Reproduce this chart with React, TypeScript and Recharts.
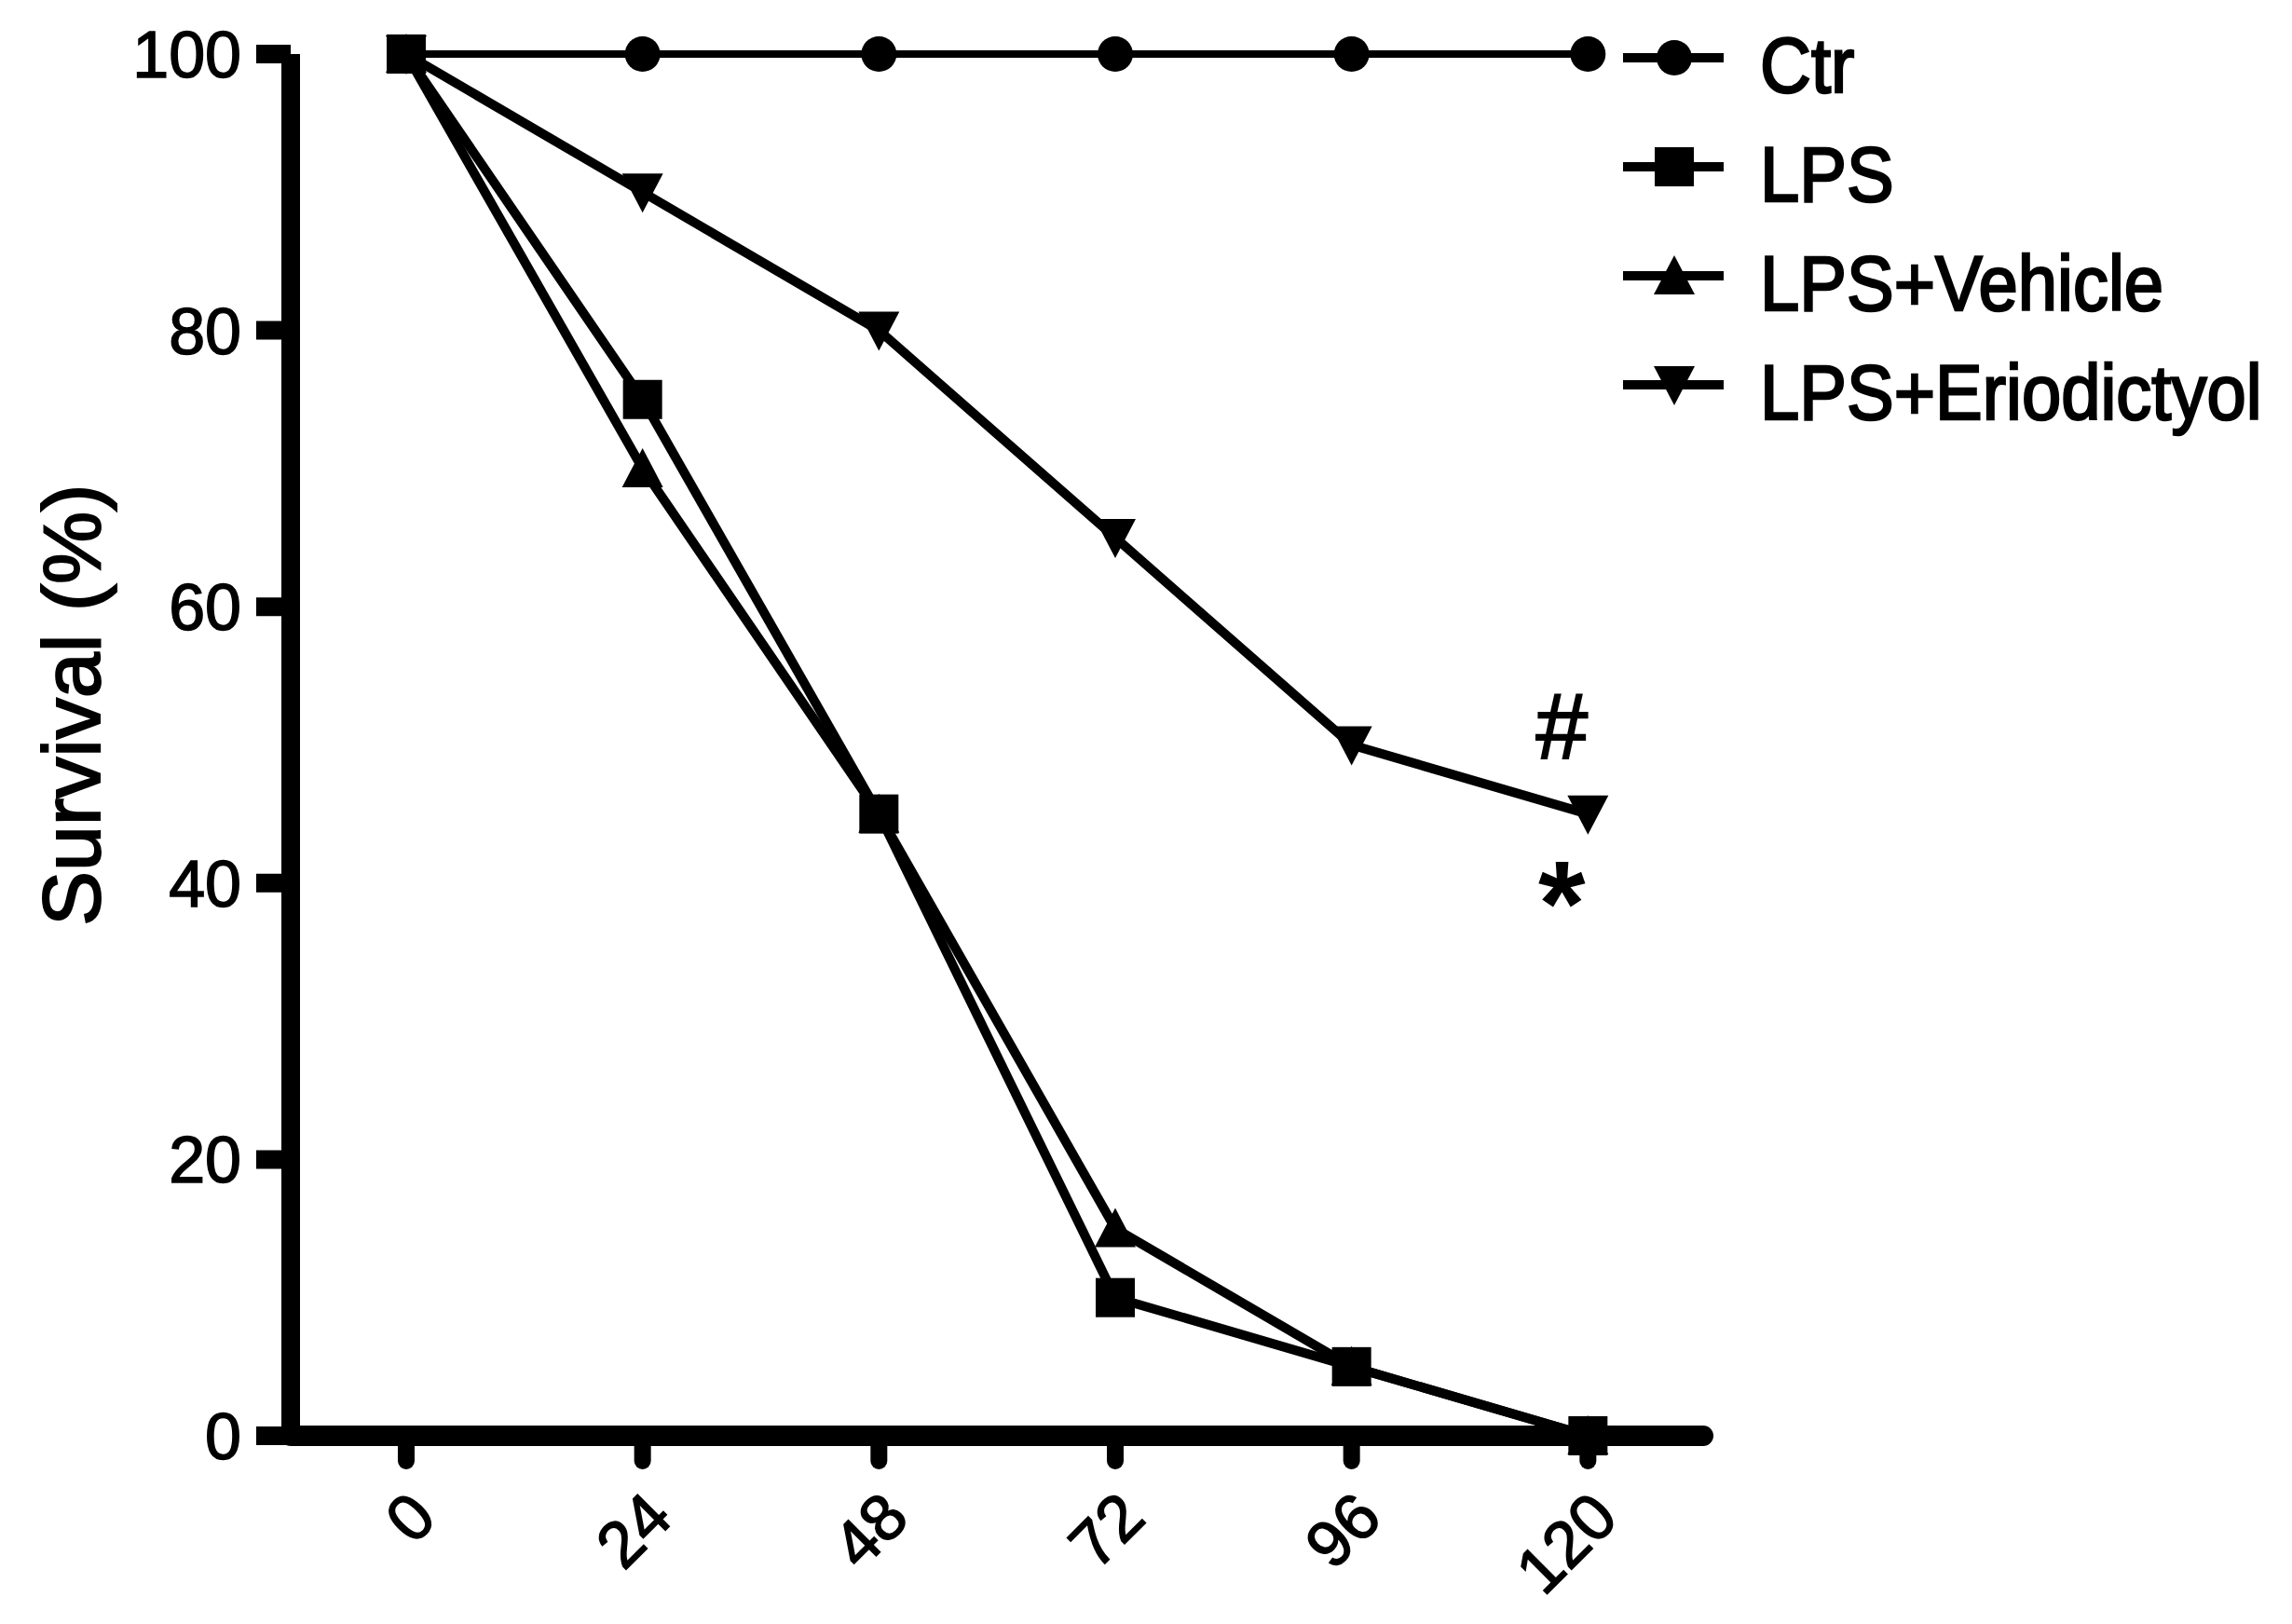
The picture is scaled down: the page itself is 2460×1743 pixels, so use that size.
import { LineChart, Line, XAxis, YAxis, Legend, ReferenceDot } from "recharts";

const hours = [0, 24, 48, 72, 96, 120];
const ctr = [100, 100, 100, 100, 100, 100];
const lps = [100, 75, 45, 10, 5, 0];
const lpsVehicle = [100, 70, 45, 15, 5, 0];
const lpsEriodictyol = [100, 90, 80, 65, 50, 45];
const yTicks = [0, 20, 40, 60, 80, 100];

// legend order differs from draw order, so keep it explicit
const seriesNames = ["Ctr", "LPS", "LPS+Vehicle", "LPS+Eriodictyol"];
const seriesShapes: Record<string, string> = {
  Ctr: "circle",
  LPS: "square",
  "LPS+Vehicle": "triangle",
  "LPS+Eriodictyol": "triangleDown",
};

const data = hours.map((h, i) => ({
  hour: h,
  ctr: ctr[i],
  lps: lps[i],
  lpsVehicle: lpsVehicle[i],
  lpsEriodictyol: lpsEriodictyol[i],
}));

const FONT = "'Liberation Sans', Arial, Helvetica, sans-serif";

function Marker({ shape, cx, cy }: { shape: string; cx: number; cy: number }) {
  if (shape === "circle") return <circle cx={cx} cy={cy} r={19} fill="#000" />;
  if (shape === "square") return <rect x={cx - 21} y={cy - 21} width={42} height={42} fill="#000" />;
  if (shape === "triangle")
    return <polygon points={`${cx},${cy - 22} ${cx + 22},${cy + 20} ${cx - 22},${cy + 20}`} fill="#000" />;
  return <polygon points={`${cx - 22},${cy - 20} ${cx + 22},${cy - 20} ${cx},${cy + 22}`} fill="#000" />;
}

const dotFor = (shape: string) => (props: any) => {
  if (props.cx == null || props.cy == null) return <g key={`${shape}-${props.index}`} />;
  return <Marker key={`${shape}-${props.index}`} shape={shape} cx={props.cx} cy={props.cy} />;
};

function XTick({ x, y, payload }: any) {
  return (
    <g transform={`translate(${x + 35},${y + 62}) rotate(-45)`}>
      <text x={0} y={0} textAnchor="end" fontSize={70} fontFamily={FONT} fill="#000" stroke="#000" strokeWidth={1.5}>
        {payload.value}
      </text>
    </g>
  );
}

function YTick({ x, y, payload }: any) {
  return (
    <text x={x} y={y} dy={25} textAnchor="end" fontSize={70} fontFamily={FONT} fill="#000" stroke="#000" strokeWidth={1.5}>
      {payload.value}
    </text>
  );
}

function YLabel({ viewBox }: any) {
  const cx = viewBox.x + 107;
  const cy = viewBox.y + viewBox.height / 2 - 43;
  return (
    <text
      x={cx}
      y={cy}
      transform={`rotate(-90, ${cx}, ${cy})`}
      textAnchor="middle"
      fontSize={88}
      fontFamily={FONT}
      fill="#000"
      stroke="#000"
      strokeWidth={2}
    >
      Survival (%)
    </text>
  );
}

function LegendContent() {
  return (
    <svg width={718} height={470} style={{ display: "block" }}>
      {seriesNames.map((name, i) => {
        const cy = 62 + i * 117;
        return (
          <g key={name}>
            <line x1={0} x2={108} y1={cy} y2={cy} stroke="#000" strokeWidth={10} />
            <Marker shape={seriesShapes[name]} cx={55} cy={cy} />
            <g transform={`translate(147,${cy + 37}) scale(0.905,1)`}>
              <text x={0} y={0} fontSize={84} fontFamily={FONT} fill="#000" stroke="#000" strokeWidth={2.5}>
                {name}
              </text>
            </g>
          </g>
        );
      })}
    </svg>
  );
}

function Annotation({ cx, cy }: any) {
  return (
    <g>
      <text x={cx - 28} y={cy - 60} textAnchor="middle" fontSize={100} fontFamily={FONT} fill="#000" stroke="#000" strokeWidth={2}>
        #
      </text>
      <text x={cx - 28} y={cy + 141} textAnchor="middle" fontSize={130} fontWeight="bold" fontFamily={FONT} fill="#000">
        *
      </text>
    </g>
  );
}

export default function App() {
  const last = hours.length - 1;
  return (
    <div style={{ position: "absolute", left: 0, top: 0, width: 2460, height: 1743, background: "#fff" }}>
      <LineChart width={2460} height={1743} data={data} margin={{ top: 58, right: 632, bottom: 0, left: 0 }}>
        <XAxis
          dataKey="hour"
          type="number"
          domain={[-11.73, 131.7]}
          ticks={hours}
          height={202}
          axisLine={{ stroke: "#000", strokeWidth: 22, strokeLinecap: "round" }}
          tickLine={{ stroke: "#000", strokeWidth: 18, strokeLinecap: "round" }}
          tickSize={27}
          tick={<XTick />}
        />
        <YAxis
          type="number"
          domain={[0, 100]}
          ticks={yTicks}
          width={312}
          axisLine={{ stroke: "#000", strokeWidth: 20 }}
          tickLine={{ stroke: "#000", strokeWidth: 20 }}
          tickSize={37}
          tickMargin={16}
          tick={<YTick />}
          label={{ content: <YLabel /> }}
        />
        <Legend
          layout="vertical"
          align="center"
          verticalAlign="middle"
          wrapperStyle={{ left: 1742, top: 0, width: 718 }}
          content={<LegendContent />}
        />
        <Line
          name={seriesNames[0]}
          dataKey="ctr"
          stroke="#000"
          strokeWidth={8}
          dot={dotFor("circle")}
          activeDot={false}
          isAnimationActive={false}
        />
        <Line
          name={seriesNames[3]}
          dataKey="lpsEriodictyol"
          stroke="#000"
          strokeWidth={10}
          dot={dotFor("triangleDown")}
          activeDot={false}
          isAnimationActive={false}
        />
        <Line
          name={seriesNames[2]}
          dataKey="lpsVehicle"
          stroke="#000"
          strokeWidth={10}
          dot={dotFor("triangle")}
          activeDot={false}
          isAnimationActive={false}
        />
        <Line
          name={seriesNames[1]}
          dataKey="lps"
          stroke="#000"
          strokeWidth={10}
          dot={dotFor("square")}
          activeDot={false}
          isAnimationActive={false}
        />
        <ReferenceDot x={hours[last]} y={lpsEriodictyol[last]} r={0} shape={<Annotation />} />
      </LineChart>
    </div>
  );
}
